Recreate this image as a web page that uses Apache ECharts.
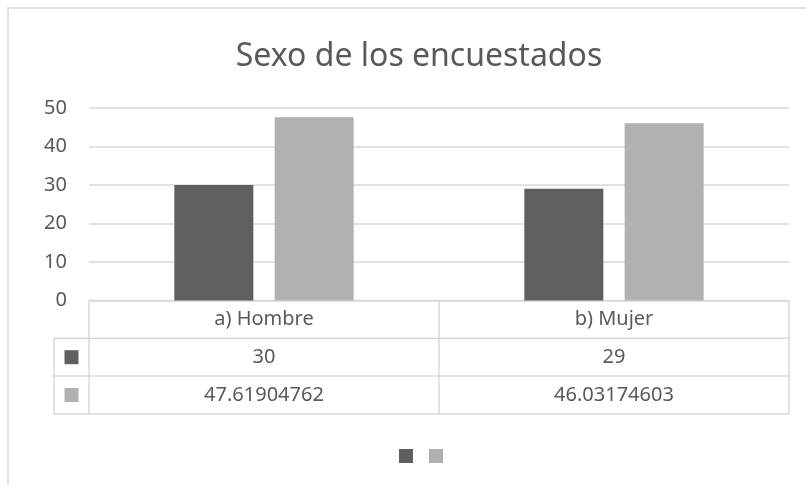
<!DOCTYPE html>
<html>
<head>
<meta charset="utf-8">
<script src="https://cdn.jsdelivr.net/npm/echarts@6/dist/echarts.min.js"></script>
<style>
  html, body { margin: 0; padding: 0; background: #fff; }
  #chart { width: 806px; height: 485px; }
</style>
</head>
<body>
<div id="chart"></div>
<script>
var categories = ["a) Hombre", "b) Mujer"];
var seriesNames = ["Serie1", "Serie2"];
var serie1 = [30, 29];
var serie2 = [47.61904762, 46.03174603];
var tableRows = [["30", "29"], ["47.61904762", "46.03174603"]];
var colors = ["#5f5f5f", "#b1b1b1"];

var font = "Noto Sans";
var textColor = "#595959";
var lineColor = "#d9d9d9";

var option = {
    animation: false,
    title: {
        text: "Sexo de los encuestados",
        left: 414,
        top: 36,
        textAlign: "center",
        textStyle: { color: textColor, fontFamily: font, fontWeight: "normal", fontSize: 32 }
    },
    legend: {
        left: 394,
        top: 444,
        icon: "rect",
        itemWidth: 14,
        itemHeight: 14,
        itemGap: 16,
        data: seriesNames,
        formatter: function () { return ""; },
        textStyle: { fontSize: 1, padding: 0 }
    },
    grid: { left: 89, right: 17, top: 108, bottom: 184.5 },
    xAxis: {
        type: "category",
        data: categories,
        axisLine: { show: false },
        axisTick: { show: false },
        axisLabel: { show: false }
    },
    yAxis: {
        type: "value",
        min: 0,
        max: 50,
        interval: 10,
        axisLine: { show: false },
        axisTick: { show: false },
        axisLabel: { color: textColor, fontFamily: font, fontSize: 20, margin: 22 },
        splitLine: { lineStyle: { color: lineColor, width: 1.5 } }
    },
    series: [
        { name: seriesNames[0], type: "bar", data: serie1, barWidth: 79, barGap: "27%", itemStyle: { color: colors[0] } },
        { name: seriesNames[1], type: "bar", data: serie2, barWidth: 79, itemStyle: { color: colors[1] } }
    ]
};

var chart = echarts.init(document.getElementById("chart"));
chart.setOption(option);

// data table under the plot, positioned from the axis
function buildTable() {
    var g = [];
    var x0 = chart.convertToPixel({ xAxisIndex: 0 }, 0);
    var x1 = chart.convertToPixel({ xAxisIndex: 0 }, 1);
    var step = x1 - x0;
    var left = x0 - step / 2;
    var right = x1 + step / 2;
    var yTop = chart.convertToPixel({ yAxisIndex: 0 }, 0);
    var rowH = 37.8;
    var keyLeft = 54;
    var ln = { stroke: lineColor, lineWidth: 1.5 };
    var rows = [yTop, yTop + rowH, yTop + 2 * rowH, yTop + 3 * rowH];

    // outer chart frame
    g.push({ type: "rect", shape: { x: 8, y: 8, width: 900, height: 600 }, style: { fill: null, stroke: lineColor, lineWidth: 1.5 }, silent: true });

    g.push({ type: "line", shape: { x1: left, y1: rows[0], x2: right, y2: rows[0] }, style: ln });
    for (var r = 1; r < rows.length; r++) {
        g.push({ type: "line", shape: { x1: keyLeft, y1: rows[r], x2: right, y2: rows[r] }, style: ln });
    }
    g.push({ type: "line", shape: { x1: left, y1: rows[0], x2: left, y2: rows[3] }, style: ln });
    g.push({ type: "line", shape: { x1: keyLeft, y1: rows[1], x2: keyLeft, y2: rows[3] }, style: ln });
    g.push({ type: "line", shape: { x1: x0 + step / 2, y1: rows[0], x2: x0 + step / 2, y2: rows[3] }, style: ln });
    g.push({ type: "line", shape: { x1: right, y1: rows[0], x2: right, y2: rows[3] }, style: ln });

    var txt = function (s, x, y) {
        return { type: "text", x: x, y: y, style: { text: s, fill: textColor, font: "20px '" + font + "'", align: "center", verticalAlign: "middle" }, silent: true };
    };
    for (var c = 0; c < categories.length; c++) {
        var cx = chart.convertToPixel({ xAxisIndex: 0 }, c);
        g.push(txt(categories[c], cx, rows[0] + rowH / 2));
        for (var k = 0; k < tableRows.length; k++) {
            g.push(txt(tableRows[k][c], cx, rows[k + 1] + rowH / 2));
        }
    }
    for (var m = 0; m < colors.length; m++) {
        var kx = (keyLeft + left) / 2;
        var ky = rows[m + 1] + rowH / 2;
        g.push({ type: "rect", shape: { x: kx - 7, y: ky - 7, width: 14, height: 14 }, style: { fill: colors[m] }, silent: true });
    }
    chart.setOption({ graphic: g });
}
buildTable();
</script>
</body>
</html>
